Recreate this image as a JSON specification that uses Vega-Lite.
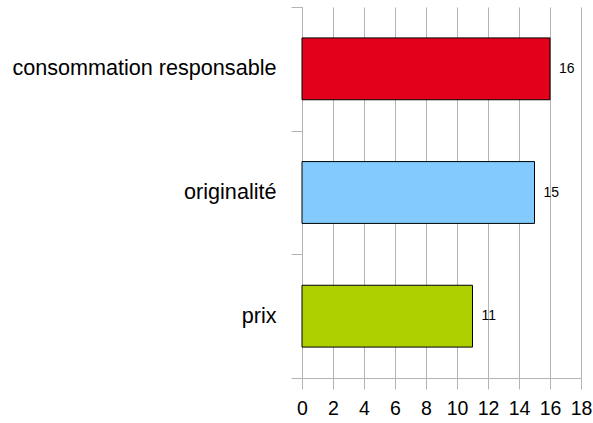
{
  "$schema": "https://vega.github.io/schema/vega-lite/v6.json",
  "autosize": "none",
  "width": 279,
  "height": 371,
  "padding": {"left": 302, "top": 7, "right": 12, "bottom": 45},
  "background": "white",
  "config": {"view": {"stroke": null}, "font": "Liberation Sans"},
  "data": {"values": [
    {"critere": "consommation responsable", "n": 16, "couleur": "#e2001a"},
    {"critere": "originalité", "n": 15, "couleur": "#83caff"},
    {"critere": "prix", "n": 11, "couleur": "#aecf00"}
  ]},
  "encoding": {
    "y": {"field": "critere", "type": "nominal", "sort": null,
      "scale": {"paddingInner": 0, "paddingOuter": 0},
      "axis": {"title": null, "tickBand": "extent", "tickSize": 11, "tickColor": "#b3b3b3", "domainColor": "#b3b3b3",
        "labelFontSize": 21.6, "labelColor": "#000000", "labelPadding": 15, "labelLimit": 400, "grid": false}},
    "x": {"field": "n", "type": "quantitative",
      "scale": {"domain": [0, 18], "nice": false},
      "axis": {"title": null, "values": [0,2,4,6,8,10,12,14,16,18], "tickSize": 11, "tickColor": "#b3b3b3", "domainColor": "#b3b3b3",
        "gridColor": "#b3b3b3", "labelFontSize": 19.5, "labelColor": "#000000", "labelPadding": 10, "labelFlush": false}}
  },
  "layer": [
    {"mark": {"type": "bar", "stroke": "#000000", "strokeWidth": 1, "height": {"band": 0.5}},
      "encoding": {"color": {"field": "couleur", "type": "nominal", "scale": null}}},
    {"mark": {"type": "text", "align": "left", "baseline": "middle", "dx": 9, "fontSize": 14, "color": "#000000"},
      "encoding": {"text": {"field": "n", "type": "quantitative"}}}
  ]
}
